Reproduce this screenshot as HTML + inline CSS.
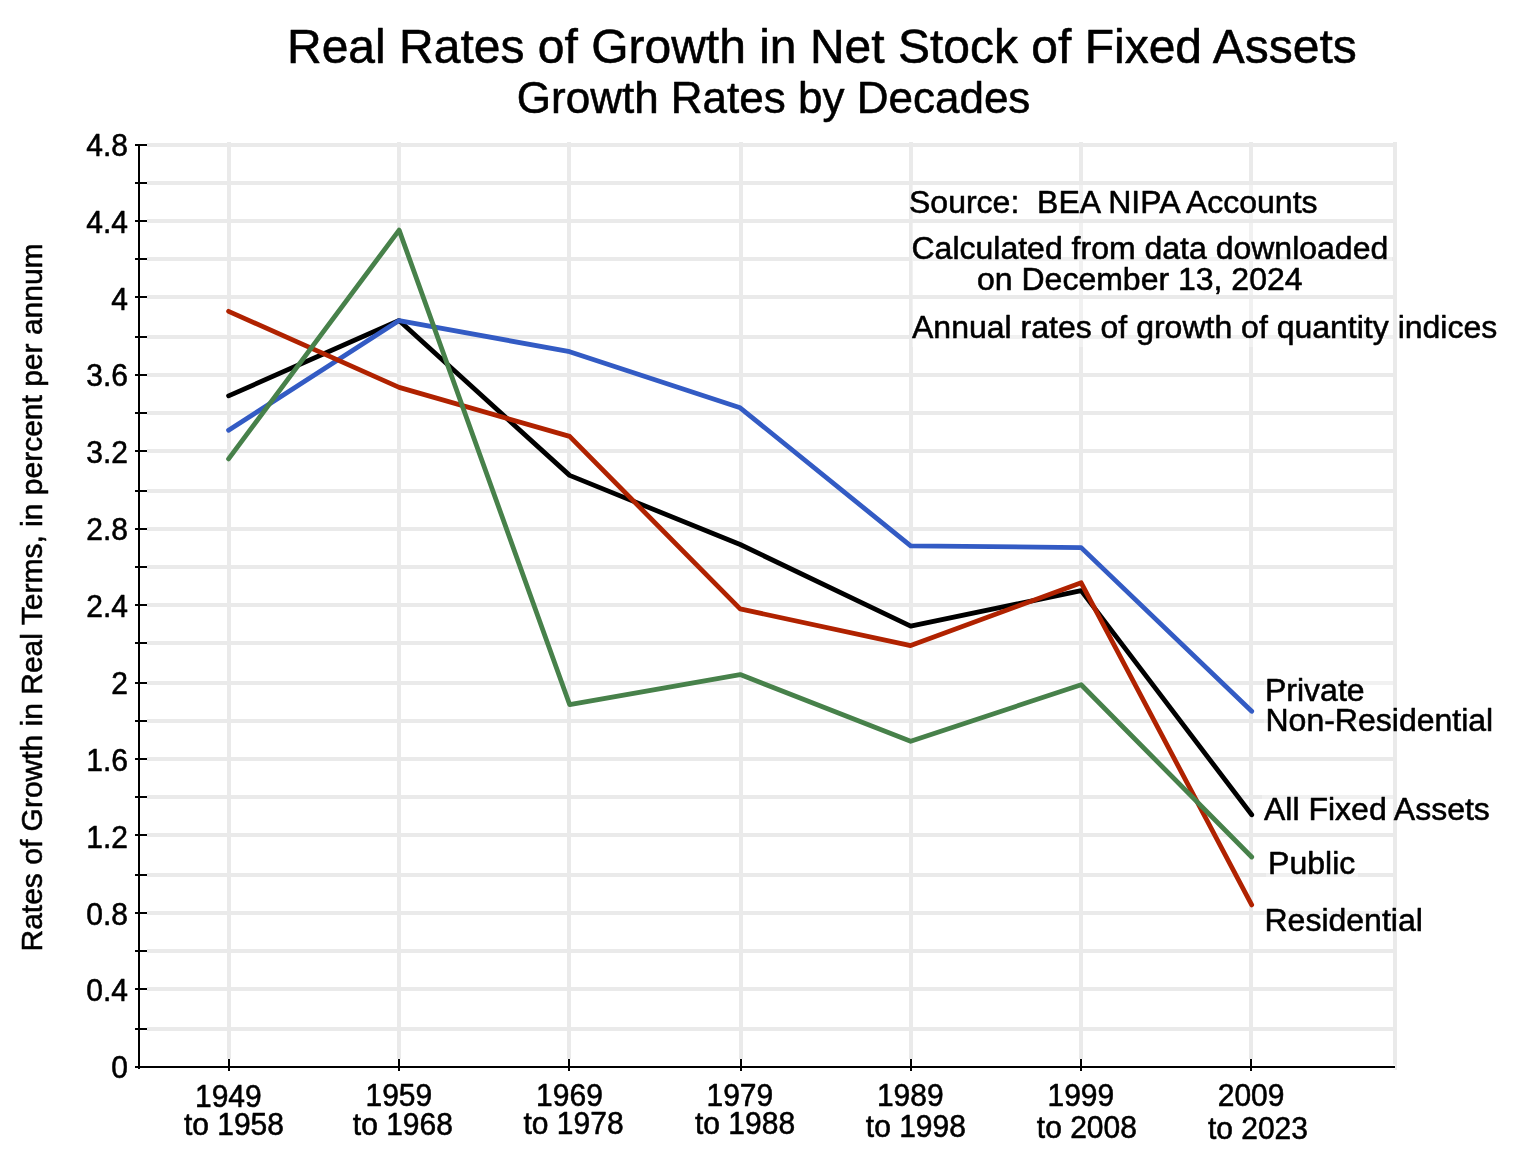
<!DOCTYPE html>
<html lang="en"><head><meta charset="utf-8"><title>Real Rates of Growth in Net Stock of Fixed Assets</title>
<style>html,body{margin:0;padding:0;background:#fff}body{width:1534px;height:1168px;overflow:hidden}svg{display:block;will-change:transform}text{font-family:"Liberation Sans",Arial,Helvetica,sans-serif;fill:#000;stroke:#000;stroke-width:0.55px;stroke-linejoin:round}</style>
</head><body>
<svg width="1534" height="1168" viewBox="0 0 1534 1168">
<rect x="0" y="0" width="1534" height="1168" fill="#fff"/>
<g stroke="#eaeaea" stroke-width="4" fill="none">
<line x1="139" x2="1397" y1="1029.00" y2="1029.00"/>
<line x1="139" x2="1397" y1="989.00" y2="989.00"/>
<line x1="139" x2="1397" y1="951.00" y2="951.00"/>
<line x1="139" x2="1397" y1="913.00" y2="913.00"/>
<line x1="139" x2="1397" y1="875.00" y2="875.00"/>
<line x1="139" x2="1397" y1="835.00" y2="835.00"/>
<line x1="139" x2="1397" y1="797.00" y2="797.00"/>
<line x1="139" x2="1397" y1="759.00" y2="759.00"/>
<line x1="139" x2="1397" y1="721.00" y2="721.00"/>
<line x1="139" x2="1397" y1="683.00" y2="683.00"/>
<line x1="139" x2="1397" y1="643.00" y2="643.00"/>
<line x1="139" x2="1397" y1="605.00" y2="605.00"/>
<line x1="139" x2="1397" y1="567.00" y2="567.00"/>
<line x1="139" x2="1397" y1="529.00" y2="529.00"/>
<line x1="139" x2="1397" y1="491.00" y2="491.00"/>
<line x1="139" x2="1397" y1="451.00" y2="451.00"/>
<line x1="139" x2="1397" y1="413.00" y2="413.00"/>
<line x1="139" x2="1397" y1="375.00" y2="375.00"/>
<line x1="139" x2="1397" y1="337.00" y2="337.00"/>
<line x1="139" x2="1397" y1="297.00" y2="297.00"/>
<line x1="139" x2="1397" y1="259.00" y2="259.00"/>
<line x1="139" x2="1397" y1="221.00" y2="221.00"/>
<line x1="139" x2="1397" y1="183.00" y2="183.00"/>
<line x1="139" x2="1397" y1="145.00" y2="145.00"/>
<line x1="229.00" x2="229.00" y1="142" y2="1070"/>
<line x1="399.00" x2="399.00" y1="142" y2="1070"/>
<line x1="569.00" x2="569.00" y1="142" y2="1070"/>
<line x1="741.00" x2="741.00" y1="142" y2="1070"/>
<line x1="911.00" x2="911.00" y1="142" y2="1070"/>
<line x1="1081.00" x2="1081.00" y1="142" y2="1070"/>
<line x1="1251.00" x2="1251.00" y1="142" y2="1070"/>
<line x1="1395.00" x2="1395.00" y1="142" y2="1070"/>
</g>
<g fill="#fff" fill-opacity="0.35">
<rect x="912" y="185" width="410" height="34"/>
<rect x="912" y="223" width="480" height="72"/>
<rect x="912" y="299" width="588" height="48"/>
<rect x="1264" y="672" width="232" height="68"/>
<rect x="1262" y="790" width="230" height="38"/>
<rect x="1266" y="845" width="92" height="38"/>
<rect x="1264" y="900" width="162" height="38"/>
</g>
<line x1="1395" x2="1395" y1="142" y2="1070" stroke="#eaeaea" stroke-width="4"/>
<g stroke="#fff" stroke-width="5" fill="none">
<line x1="139" x2="139" y1="144" y2="1069"/>
<line x1="138" x2="1395" y1="1067" y2="1067"/>
<line x1="135" x2="139" y1="1067.00" y2="1067.00"/>
<line x1="135" x2="147" y1="1029.00" y2="1029.00"/>
<line x1="135" x2="147" y1="989.00" y2="989.00"/>
<line x1="135" x2="147" y1="951.00" y2="951.00"/>
<line x1="135" x2="147" y1="913.00" y2="913.00"/>
<line x1="135" x2="147" y1="875.00" y2="875.00"/>
<line x1="135" x2="147" y1="835.00" y2="835.00"/>
<line x1="135" x2="147" y1="797.00" y2="797.00"/>
<line x1="135" x2="147" y1="759.00" y2="759.00"/>
<line x1="135" x2="147" y1="721.00" y2="721.00"/>
<line x1="135" x2="147" y1="683.00" y2="683.00"/>
<line x1="135" x2="147" y1="643.00" y2="643.00"/>
<line x1="135" x2="147" y1="605.00" y2="605.00"/>
<line x1="135" x2="147" y1="567.00" y2="567.00"/>
<line x1="135" x2="147" y1="529.00" y2="529.00"/>
<line x1="135" x2="147" y1="491.00" y2="491.00"/>
<line x1="135" x2="147" y1="451.00" y2="451.00"/>
<line x1="135" x2="147" y1="413.00" y2="413.00"/>
<line x1="135" x2="147" y1="375.00" y2="375.00"/>
<line x1="135" x2="147" y1="337.00" y2="337.00"/>
<line x1="135" x2="147" y1="297.00" y2="297.00"/>
<line x1="135" x2="147" y1="259.00" y2="259.00"/>
<line x1="135" x2="147" y1="221.00" y2="221.00"/>
<line x1="135" x2="147" y1="183.00" y2="183.00"/>
<line x1="135" x2="147" y1="145.00" y2="145.00"/>
<line x1="229.00" x2="229.00" y1="1059" y2="1071"/>
<line x1="399.00" x2="399.00" y1="1059" y2="1071"/>
<line x1="569.00" x2="569.00" y1="1059" y2="1071"/>
<line x1="741.00" x2="741.00" y1="1059" y2="1071"/>
<line x1="911.00" x2="911.00" y1="1059" y2="1071"/>
<line x1="1081.00" x2="1081.00" y1="1059" y2="1071"/>
<line x1="1251.00" x2="1251.00" y1="1059" y2="1071"/>
</g>
<g stroke="#000" stroke-width="2" fill="none">
<line x1="139" x2="139" y1="144" y2="1069"/>
<line x1="138" x2="1395" y1="1067" y2="1067"/>
<line x1="135" x2="139" y1="1067.00" y2="1067.00"/>
<line x1="135" x2="147" y1="1029.00" y2="1029.00"/>
<line x1="135" x2="147" y1="989.00" y2="989.00"/>
<line x1="135" x2="147" y1="951.00" y2="951.00"/>
<line x1="135" x2="147" y1="913.00" y2="913.00"/>
<line x1="135" x2="147" y1="875.00" y2="875.00"/>
<line x1="135" x2="147" y1="835.00" y2="835.00"/>
<line x1="135" x2="147" y1="797.00" y2="797.00"/>
<line x1="135" x2="147" y1="759.00" y2="759.00"/>
<line x1="135" x2="147" y1="721.00" y2="721.00"/>
<line x1="135" x2="147" y1="683.00" y2="683.00"/>
<line x1="135" x2="147" y1="643.00" y2="643.00"/>
<line x1="135" x2="147" y1="605.00" y2="605.00"/>
<line x1="135" x2="147" y1="567.00" y2="567.00"/>
<line x1="135" x2="147" y1="529.00" y2="529.00"/>
<line x1="135" x2="147" y1="491.00" y2="491.00"/>
<line x1="135" x2="147" y1="451.00" y2="451.00"/>
<line x1="135" x2="147" y1="413.00" y2="413.00"/>
<line x1="135" x2="147" y1="375.00" y2="375.00"/>
<line x1="135" x2="147" y1="337.00" y2="337.00"/>
<line x1="135" x2="147" y1="297.00" y2="297.00"/>
<line x1="135" x2="147" y1="259.00" y2="259.00"/>
<line x1="135" x2="147" y1="221.00" y2="221.00"/>
<line x1="135" x2="147" y1="183.00" y2="183.00"/>
<line x1="135" x2="147" y1="145.00" y2="145.00"/>
<line x1="229.00" x2="229.00" y1="1059" y2="1071"/>
<line x1="399.00" x2="399.00" y1="1059" y2="1071"/>
<line x1="569.00" x2="569.00" y1="1059" y2="1071"/>
<line x1="741.00" x2="741.00" y1="1059" y2="1071"/>
<line x1="911.00" x2="911.00" y1="1059" y2="1071"/>
<line x1="1081.00" x2="1081.00" y1="1059" y2="1071"/>
<line x1="1251.00" x2="1251.00" y1="1059" y2="1071"/>
</g>
<g fill="none" stroke-width="4.8" stroke-linecap="round" stroke-linejoin="round">
<polyline stroke="#000000" points="228.60,395.86 399.12,320.57 569.63,475.38 740.15,544.53 910.67,626.17 1081.18,590.63 1251.70,814.80"/>
<polyline stroke="#335bc4" points="228.60,430.24 399.12,320.57 569.63,351.68 740.15,407.77 910.67,545.88 1081.18,547.61 1251.70,711.26"/>
<polyline stroke="#b02200" points="228.60,311.35 399.12,387.41 569.63,436.39 740.15,608.88 910.67,645.57 1081.18,582.76 1251.70,904.88"/>
<polyline stroke="#47814a" points="228.60,458.87 399.12,230.09 569.63,704.54 740.15,674.57 910.67,741.23 1081.18,684.75 1251.70,857.05"/>
</g>
<text x="287.00" y="63.00" font-size="48" stroke-width="0.85">Real Rates of Growth in Net Stock of Fixed Assets</text>
<text x="516.80" y="112.70" font-size="44" stroke-width="0.8">Growth Rates by Decades</text>
<text transform="translate(128.00 1078.22) scale(1 1.020)" font-size="30" text-anchor="end">0</text>
<text transform="translate(128.00 1001.36) scale(1 1.020)" font-size="30" text-anchor="end">0.4</text>
<text transform="translate(128.00 924.50) scale(1 1.020)" font-size="30" text-anchor="end">0.8</text>
<text transform="translate(128.00 847.64) scale(1 1.020)" font-size="30" text-anchor="end">1.2</text>
<text transform="translate(128.00 770.78) scale(1 1.020)" font-size="30" text-anchor="end">1.6</text>
<text transform="translate(128.00 693.92) scale(1 1.020)" font-size="30" text-anchor="end">2</text>
<text transform="translate(128.00 617.06) scale(1 1.020)" font-size="30" text-anchor="end">2.4</text>
<text transform="translate(128.00 540.20) scale(1 1.020)" font-size="30" text-anchor="end">2.8</text>
<text transform="translate(128.00 463.34) scale(1 1.020)" font-size="30" text-anchor="end">3.2</text>
<text transform="translate(128.00 386.48) scale(1 1.020)" font-size="30" text-anchor="end">3.6</text>
<text transform="translate(128.00 309.62) scale(1 1.020)" font-size="30" text-anchor="end">4</text>
<text transform="translate(128.00 232.76) scale(1 1.020)" font-size="30" text-anchor="end">4.4</text>
<text transform="translate(128.00 155.90) scale(1 1.020)" font-size="30" text-anchor="end">4.8</text>
<text transform="translate(195.00 1107.00) scale(1 1.020)" font-size="30">1949</text>
<text transform="translate(183.90 1135.10) scale(1 1.020)" font-size="30">to 1958</text>
<text transform="translate(365.50 1106.00) scale(1 1.020)" font-size="30">1959</text>
<text transform="translate(352.80 1134.80) scale(1 1.020)" font-size="30">to 1968</text>
<text transform="translate(536.10 1106.00) scale(1 1.020)" font-size="30">1969</text>
<text transform="translate(523.50 1134.00) scale(1 1.020)" font-size="30">to 1978</text>
<text transform="translate(706.50 1106.00) scale(1 1.020)" font-size="30">1979</text>
<text transform="translate(695.00 1134.00) scale(1 1.020)" font-size="30">to 1988</text>
<text transform="translate(876.90 1106.00) scale(1 1.020)" font-size="30">1989</text>
<text transform="translate(865.80 1137.00) scale(1 1.020)" font-size="30">to 1998</text>
<text transform="translate(1047.50 1106.00) scale(1 1.020)" font-size="30">1999</text>
<text transform="translate(1036.80 1137.80) scale(1 1.020)" font-size="30">to 2008</text>
<text transform="translate(1217.70 1106.00) scale(1 1.020)" font-size="30">2009</text>
<text transform="translate(1207.90 1138.80) scale(1 1.020)" font-size="30">to 2023</text>
<text transform="translate(42 951.5) rotate(-90)" font-size="30">Rates of Growth in Real Terms, in percent per annum</text>
<g font-size="32">
<text x="909" y="212.5" xml:space="preserve">Source:  BEA NIPA Accounts</text>
<text x="911.5" y="258.5">Calculated from data downloaded</text>
<text x="977" y="290.0">on December 13, 2024</text>
<text x="912" y="337.5">Annual rates of growth of quantity indices</text>
<text x="1265.0" y="700.5">Private</text>
<text x="1265.5" y="731">Non-Residential</text>
<text x="1264.0" y="819.5">All Fixed Assets</text>
<text x="1268.1" y="873.8">Public</text>
<text x="1264.5" y="930.8">Residential</text>
</g>
</svg></body></html>
